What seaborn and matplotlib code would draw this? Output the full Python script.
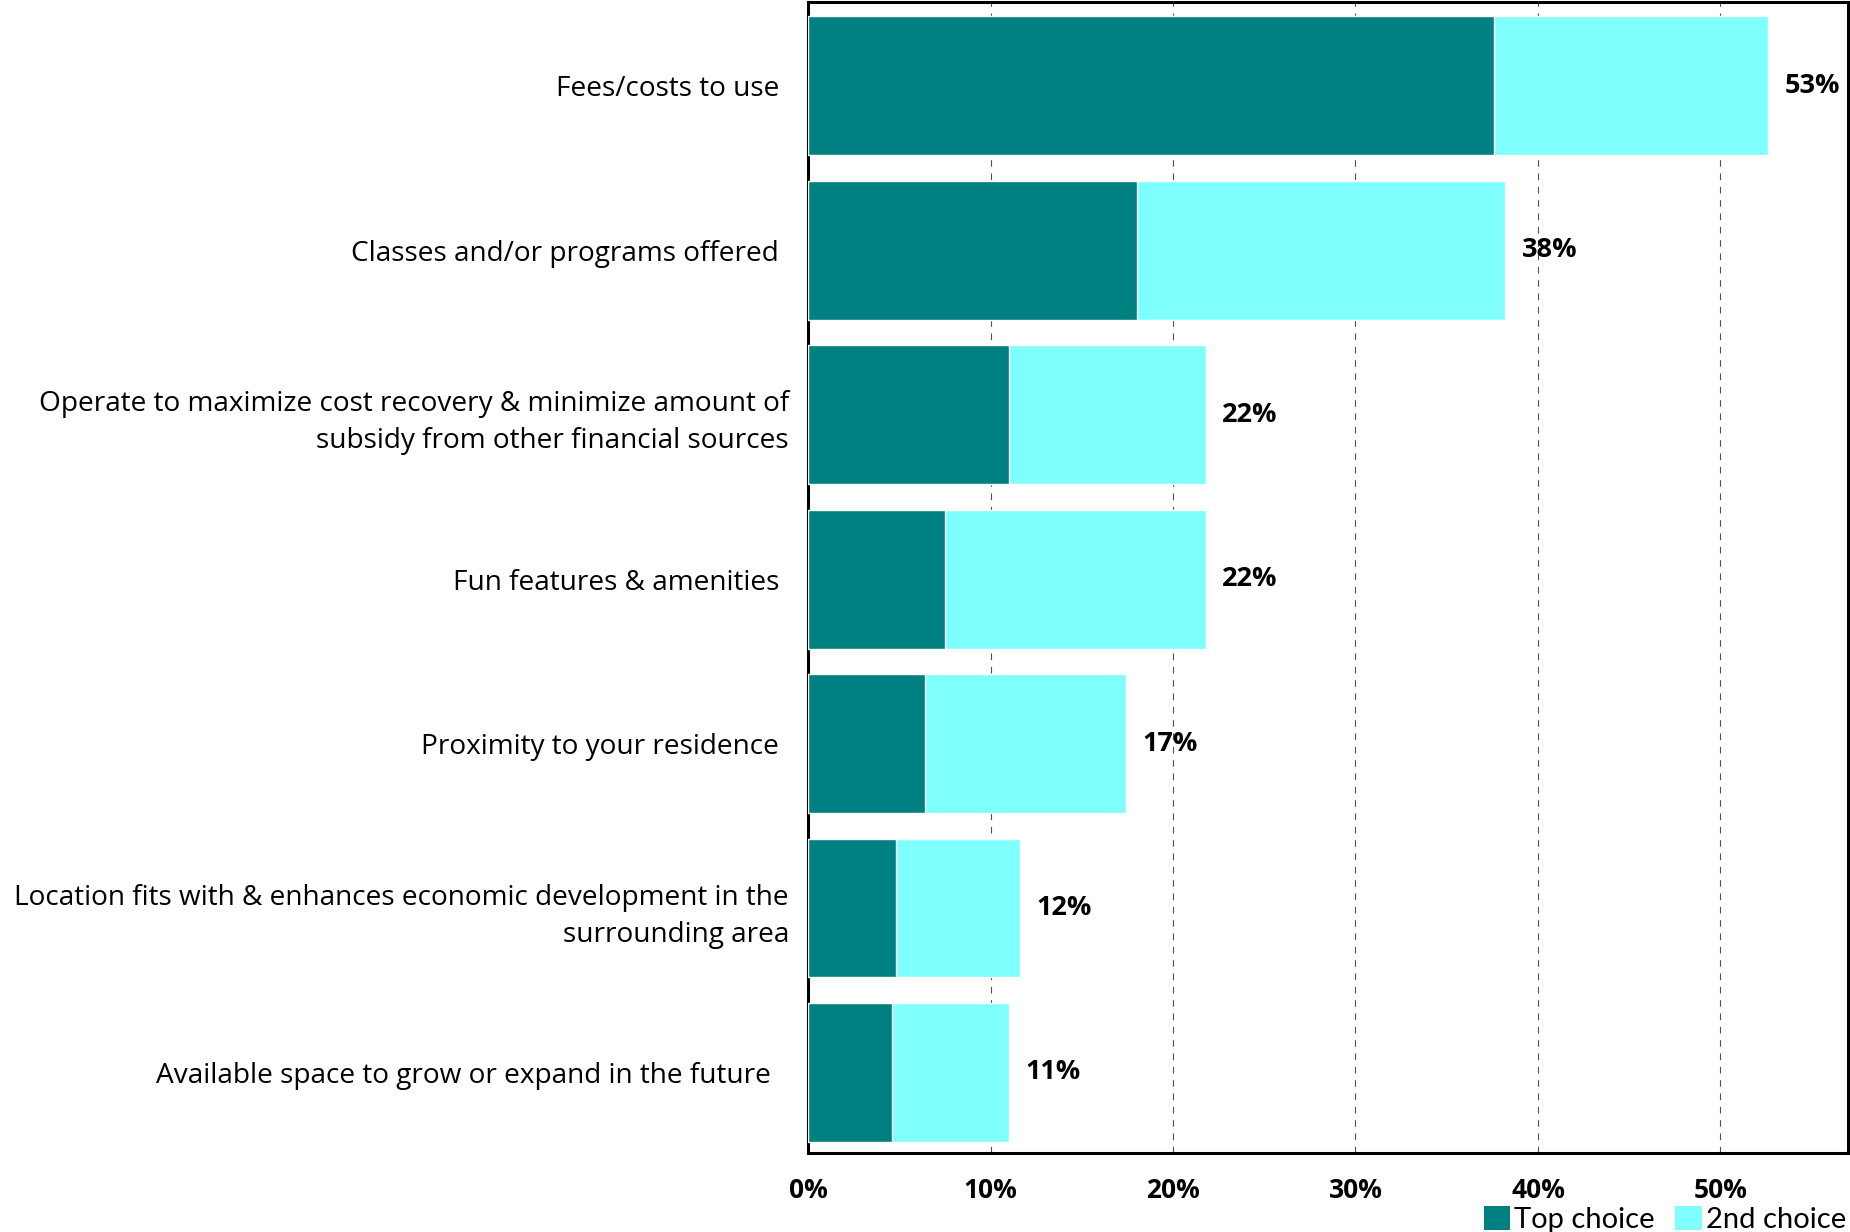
import matplotlib
matplotlib.use("Agg")
import matplotlib.pyplot as plt
from matplotlib.patches import Patch
import seaborn as sns

categories = [
    "Fees/costs to use",
    "Classes and/or programs offered",
    "Operate to maximize cost recovery & minimize amount of\nsubsidy from other financial sources",
    "Fun features & amenities",
    "Proximity to your residence",
    "Location fits with & enhances economic development in the\nsurrounding area",
    "Available space to grow or expand in the future",
]
top_choice = [37.6, 18.0, 11.0, 7.5, 6.4, 4.8, 4.6]
second_choice = [15.0, 20.2, 10.8, 14.3, 11.0, 6.8, 6.4]
x_ticks = [0, 10, 20, 30, 40, 50]
series_names = ["Top choice", "2nd choice"]

totals = [t + s for t, s in zip(top_choice, second_choice)]

TEAL = "#008080"
CYAN = "#80FFFF"
SANS = ["Open Sans", "DejaVu Sans"]
NARROW = ["Lato", "DejaVu Sans"]

sns.set_style("white")
plt.rcParams["font.family"] = SANS
plt.rcParams["text.color"] = "black"
plt.rcParams["xtick.color"] = "black"
plt.rcParams["ytick.color"] = "black"

fig = plt.figure(figsize=(18.5, 12.32), dpi=100)
ax = fig.add_axes([0.4368, 0.0641, 0.5622, 0.9343])

# full stacked length first, top-choice share drawn over it
sns.barplot(x=totals, y=categories, color=CYAN, saturation=1, width=0.845,
            orient="h", ax=ax, zorder=2)
sns.barplot(x=top_choice, y=categories, color=TEAL, saturation=1, width=0.845,
            orient="h", ax=ax, zorder=3)

for i, tot in enumerate(totals):
    ax.text(tot + 0.9, i, f"{tot:.0f}%", va="center", ha="left",
            fontsize=19.5, fontweight="bold", color="black", family=SANS)

ax.set_xlim(0, 57)
ax.set_ylim(6.49, -0.51)
ax.set_xticks(x_ticks)
ax.set_xticklabels([f"{v}%" for v in x_ticks], fontsize=19, fontweight="bold",
                   family=SANS, color="black")
ax.set_xlabel("")
ax.set_ylabel("")
ax.tick_params(axis="x", length=0, pad=17)
ax.tick_params(axis="y", length=0, labelsize=20.2, labelcolor="black")
for lab in ax.get_yticklabels():
    lab.set_linespacing(1.43)

label_pads = [20.9, 20.9, 13.7, 20.9, 20.9, 13.7, 26.6]
for tick, p in zip(ax.yaxis.get_major_ticks(), label_pads):
    tick.set_pad(p)

ax.xaxis.grid(True, linestyle=(0, (6, 6)), color="#505050", linewidth=0.8)
ax.yaxis.grid(False)
ax.set_axisbelow(True)
for sp in ax.spines.values():
    sp.set_visible(True)
    sp.set_color("black")
    sp.set_linewidth(2.2)

handles = [Patch(facecolor=TEAL, edgecolor="none"), Patch(facecolor=CYAN, edgecolor="none")]
leg = fig.legend(handles, series_names, loc="center right", bbox_to_anchor=(0.998, 0.010),
                 ncol=2, frameon=False, handlelength=0.9, handleheight=0.9,
                 handletextpad=0.15, columnspacing=0.7, borderpad=0, borderaxespad=0,
                 prop={"family": NARROW, "size": 21})
for t in leg.get_texts():
    t.set_color("black")

fig.savefig("out.png", dpi=100)
